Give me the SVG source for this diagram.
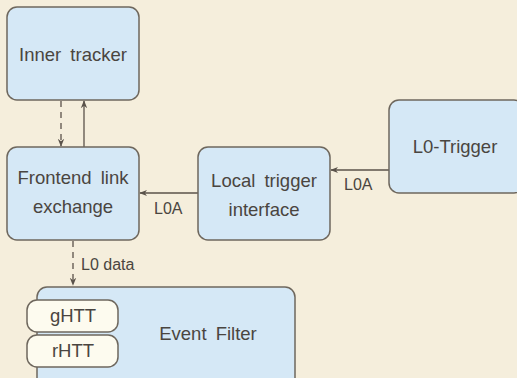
<svg xmlns="http://www.w3.org/2000/svg" width="517" height="378" viewBox="0 0 517 378">
<style>
.node{fill:#d5e8f6;stroke:#6e675d;stroke-width:1.5}
.sub{fill:#fdfbef;stroke:#6e675d;stroke-width:1.5}
.t{font-family:"Liberation Sans",Arial,sans-serif;font-size:18.5px;word-spacing:4px;fill:#4a4540;text-anchor:middle}
.lbl{font-family:"Liberation Sans",Arial,sans-serif;font-size:16px;fill:#4a4540}
.c{stroke:#5a524a;stroke-width:1.3;fill:none}
.d{stroke-dasharray:6,5}
</style>
<defs>
<marker id="ah" viewBox="0 0 10 10" refX="9" refY="5" markerWidth="8" markerHeight="8" orient="auto-start-reverse" markerUnits="userSpaceOnUse">
<path d="M0,1 L10,5 L0,9 L3,5 Z" fill="#5a524a"/>
</marker>
</defs>
<rect width="517" height="378" fill="#f5eedc"/>
<g id="connectors">
<line class="c d" x1="61" y1="101" x2="61" y2="146" marker-end="url(#ah)"/>
<line class="c" x1="84" y1="147" x2="84" y2="101" marker-end="url(#ah)"/>
<line class="c" x1="389" y1="170" x2="331" y2="170" marker-end="url(#ah)"/>
<text class="lbl" x="344" y="190">L0A</text>
<line class="c" x1="198" y1="193" x2="140" y2="193" marker-end="url(#ah)"/>
<text class="lbl" x="154" y="214">L0A</text>
<line class="c d" x1="73" y1="241" x2="73" y2="285" marker-end="url(#ah)"/>
<text class="lbl" x="81" y="270">L0 data</text>
</g>
<g id="inner-tracker">
<rect class="node" x="7" y="7" width="132" height="93" rx="10"/>
<text class="t" x="73" y="60.5">Inner tracker</text>
</g>
<g id="frontend-link-exchange">
<rect class="node" x="7" y="147" width="132" height="93" rx="10"/>
<text class="t" x="73" y="184">Frontend link</text>
<text class="t" x="73" y="213">exchange</text>
</g>
<g id="local-trigger-interface">
<rect class="node" x="198" y="147" width="132" height="93" rx="10"/>
<text class="t" x="264" y="187">Local trigger</text>
<text class="t" x="264" y="215.5">interface</text>
</g>
<g id="l0-trigger">
<rect class="node" x="389" y="100" width="135" height="93" rx="10"/>
<text class="t" x="455" y="152.5">L0-Trigger</text>
</g>
<g id="event-filter">
<rect class="node" x="37" y="287" width="258" height="105" rx="10"/>
<text class="t" x="208" y="340">Event Filter</text>
</g>
<g id="ghtt">
<rect class="sub" x="27" y="300" width="91" height="32" rx="10"/>
<text class="t" x="73" y="322">gHTT</text>
</g>
<g id="rhtt">
<rect class="sub" x="27" y="335" width="91" height="32" rx="10"/>
<text class="t" x="73" y="357">rHTT</text>
</g>
</svg>
